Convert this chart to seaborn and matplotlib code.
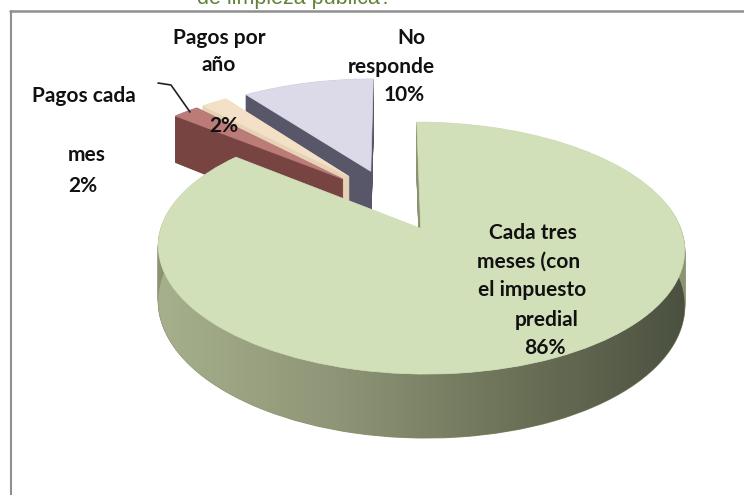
import numpy as np
import matplotlib
matplotlib.use("Agg")
import matplotlib.pyplot as plt
import matplotlib.transforms as mtransforms
import seaborn as sns
from matplotlib.colors import LinearSegmentedColormap
from matplotlib.lines import Line2D
from matplotlib.patches import Polygon

# --- data -------------------------------------------------------------
categories = ["Cada tres meses (con el impuesto predial",
              "Pagos cada mes", "Pagos por año", "No responde"]
shares = [86, 2, 2, 10]
percent_labels = ["86%", "2%", "2%", "10%"]
title_tail = "de limpieza pública?"

# --- style ------------------------------------------------------------
top_colors = ["#d2e0ba", "#bb7b77", "#f4dfc7", "#dcd9e8"]
side_colors = ["#8c9372", "#774442", "#e6d2b6", "#58576a"]
explode = [0.27, 0.27, 0.27, 0.27]
draw_order = [4, 3, 2, 1]          # front slice drawn last

sns.set_style("white")
plt.rcParams["font.family"] = ["Lato", "DejaVu Sans"]


class TiltedView(mtransforms.Transform):
    """Perspective view of the pie plane, optionally dropped by a height."""
    input_dims = output_dims = 2

    def __init__(self, persp, drop=0.0):
        super().__init__()
        self.persp, self.drop = persp, drop

    def transform_non_affine(self, values):
        v = np.asarray(values, dtype=float).reshape(-1, 2)
        d = 1 + self.persp * v[:, 1]
        return np.column_stack([v[:, 0] / d, (v[:, 1] - self.drop) / d])


W, H = 744, 495
fig = plt.figure(figsize=(W / 100, H / 100), dpi=100)
ax = fig.add_axes([0, 0, 1, 1])
ax.axis("off")

# view geometry: pixel scale of one radius, centre, perspective, thickness
rx_px, ry_px = 250.4, 114.1
cx_px, cy_px = 390.9, 199.5
persp = 0.15
depth = 52 / ry_px
n_layers = 60

pie_kw = dict(explode=explode, startangle=90, counterclock=False,
              radius=1, center=(0, 0))

# extruded body: stacked copies of the pie, lowest layer first
for k in range(n_layers, 0, -1):
    drop = k * depth / n_layers
    wedges, _ = ax.pie(shares, colors=side_colors,
                       wedgeprops=dict(linewidth=0.8), **pie_kw)
    for w, z in zip(wedges, draw_order):
        w.set_transform(TiltedView(persp, drop) + ax.transData)
        w.set_edgecolor(w.get_facecolor())
        w.set_zorder(z + 0.5 * (1 - k / n_layers))

# shaded front wall of the large slice
frac = np.array(shares) / sum(shares)
mid = np.deg2rad(90 - 360 * (np.cumsum(frac) - frac / 2))
gx, gy = explode[0] * np.cos(mid[0]), explode[0] * np.sin(mid[0])
t = np.deg2rad(np.linspace(170, 370, 400))
rim = np.column_stack([gx + np.cos(t), gy + np.sin(t)])
upper = TiltedView(persp, 0).transform(rim)
lower = TiltedView(persp, depth).transform(rim)[::-1]
outline = np.vstack([upper, lower])
wall = Polygon(outline, closed=True, transform=ax.transData,
               facecolor="none", edgecolor="none")
ax.add_patch(wall)
wall_cmap = LinearSegmentedColormap.from_list(
    "wall", ["#a6b08c", "#8f9577", "#6d7358", "#4b5140"])
grad = np.linspace(0, 1, 256)[None, :]
x_lo, y_lo = outline.min(axis=0)
x_hi, y_hi = outline.max(axis=0)
im = ax.imshow(grad, extent=(x_lo, x_hi, y_lo, y_hi), aspect="auto",
               cmap=wall_cmap, zorder=draw_order[0] + 0.6)
im.set_clip_path(wall)

# top faces
wedges, _ = ax.pie(shares, colors=top_colors,
                   wedgeprops=dict(linewidth=0.5), **pie_kw)
for w, z in zip(wedges, draw_order):
    w.set_transform(TiltedView(persp, 0) + ax.transData)
    w.set_edgecolor(w.get_facecolor())
    w.set_zorder(z + 0.9)

ax.set_aspect("auto")
ax.set_xlim(-cx_px / rx_px, (W - cx_px) / rx_px)
ax.set_ylim((cy_px - H) / ry_px, cy_px / ry_px)


def px_text(x, y, s, **kw):
    fig.text(x / W, 1 - y / H, s, fontsize=15, fontweight="bold",
             color="#111111", va="center", **kw)


# data labels, line by line
px_text(219, 38, "Pagos por", ha="center")
px_text(219, 65, "año", ha="center")
px_text(224, 126, percent_labels[2], ha="center")

px_text(84, 96, "Pagos cada", ha="center")
px_text(68, 155, "mes", ha="left")
px_text(68, 186, percent_labels[1], ha="left")

px_text(411, 38, "No", ha="center")
px_text(391, 67, "responde", ha="center")
px_text(404, 95, percent_labels[3], ha="center")

px_text(533, 233, "Cada tres", ha="center")
px_text(529, 262, "meses (con", ha="center")
px_text(532, 290, "el impuesto", ha="center")
px_text(547, 320, "predial", ha="center")
px_text(545, 348, percent_labels[0], ha="center")

# leader line for the monthly-payment label
lx = np.array([158, 171, 190]) / W
ly = 1 - np.array([83, 85, 112]) / H
fig.add_artist(Line2D(lx, ly, color="#222222", lw=1.2))

# chart frame and the clipped tail of the title above it
fig.add_artist(Line2D([10 / W, 1], [1 - 11 / H] * 2, color="#8f8f8f", lw=1.8))
fig.add_artist(Line2D([11 / W] * 2, [1 - 11 / H, 0], color="#8f8f8f", lw=1.5))
fig.text(294 / W, 1 - 4 / H, title_tail, fontsize=15.5, color="#62823a",
         ha="center", va="baseline", family=["Liberation Sans", "DejaVu Sans"])

fig.savefig("out.png", dpi=100, facecolor="white")
